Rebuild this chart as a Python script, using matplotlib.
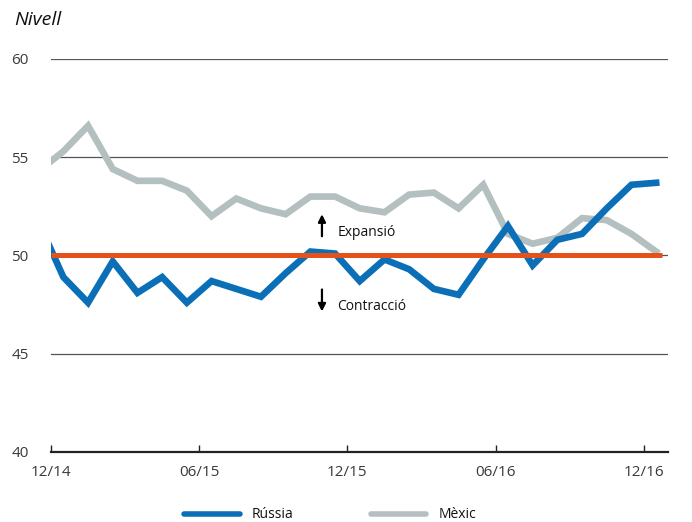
import matplotlib
matplotlib.use("Agg")
import matplotlib.pyplot as plt
from matplotlib.lines import Line2D

plt.rcParams['font.family'] = ['Open Sans', 'DejaVu Sans']

# Monthly data, Nov 2014 .. Dec 2016 (first point lies just left of the axis)
months = list(range(-1, 25))
russia = [51.7, 48.9, 47.6, 49.7, 48.1, 48.9, 47.6, 48.7, 48.3, 47.9, 49.1, 50.2, 50.1,
          48.7, 49.8, 49.3, 48.3, 48.0, 49.8, 51.5, 49.5, 50.8, 51.1, 52.4, 53.6, 53.7]
mexico = [54.3, 55.3, 56.6, 54.4, 53.8, 53.8, 53.3, 52.0, 52.9, 52.4, 52.1, 53.0, 53.0,
          52.4, 52.2, 53.1, 53.2, 52.4, 53.6, 51.1, 50.6, 50.9, 51.9, 51.8, 51.1, 50.2]
threshold = 50
xtick_pos = [-0.5, 5.5, 11.5, 17.5, 23.5]
xtick_labels = ['12/14', '06/15', '12/15', '06/16', '12/16']
yticks = [40, 45, 50, 55, 60]
series_names = ['Rússia', 'Mèxic']

BLUE = '#0a6fb7'
GRAY = '#b4bfc0'
ORANGE = '#e5511b'
TXT = '#3a3a3a'

W, H = 692, 522
fig = plt.figure(figsize=(W / 100, H / 100), dpi=100)
ax = fig.add_axes([51 / W, (H - 452) / H, (668 - 51) / W, (452 - 59) / H])

for y in yticks[1:]:
    ax.axhline(y, color='#555555', lw=0.9, zorder=1)

ax.plot(months, mexico, color=GRAY, lw=4.8, solid_joinstyle='miter', zorder=3)
ax.plot(months, russia, color=BLUE, lw=4.8, solid_joinstyle='miter', zorder=4)
ax.plot([-0.5, 24.25], [threshold, threshold], color=ORANGE, lw=3.6, zorder=5,
        solid_capstyle='butt')

ax.set_xlim(-0.5, 24.48)
ax.set_ylim(40, 60)

for s in ['top', 'right', 'left']:
    ax.spines[s].set_visible(False)
ax.spines['bottom'].set_color('#222222')
ax.spines['bottom'].set_linewidth(1.6)

ax.set_xticks(xtick_pos)
ax.set_xticklabels(xtick_labels)
ax.set_yticks(yticks)
ax.tick_params(axis='x', direction='in', length=5, width=1, color='#222222',
               pad=9, labelsize=11, labelcolor=TXT)
ax.tick_params(axis='y', length=0, pad=16, labelsize=11, labelcolor=TXT)

# Expansion / contraction annotations
ax.annotate('', xy=(10.47, 52.1), xytext=(10.47, 50.98),
            arrowprops=dict(arrowstyle='-|>', color='black', lw=1.6,
                            mutation_scale=11, shrinkA=0, shrinkB=0), zorder=6)
ax.annotate('', xy=(10.47, 47.15), xytext=(10.47, 48.27),
            arrowprops=dict(arrowstyle='-|>', color='black', lw=1.6,
                            mutation_scale=11, shrinkA=0, shrinkB=0), zorder=6)
ax.text(11.09, 51.16, 'Expansió', fontsize=10, color='#111111', va='center', ha='left')
ax.text(11.09, 47.39, 'Contracció', fontsize=10, color='#111111', va='center', ha='left')

fig.text(14 / W, 1 - 20 / H, 'Nivell', fontsize=14, style='italic', color='#111111',
         va='center', ha='left')

handles = [Line2D([0], [0], color=BLUE, lw=4.0, solid_capstyle='round'),
           Line2D([0], [0], color=GRAY, lw=4.0, solid_capstyle='round')]
fig.legend(handles, series_names, loc='center', bbox_to_anchor=(330 / W, 1 - 515 / H),
           ncol=2, frameon=False, fontsize=10, handlelength=4.0, handletextpad=0.85,
           columnspacing=5.6, labelcolor='#111111')

fig.savefig('out.png', dpi=100)
